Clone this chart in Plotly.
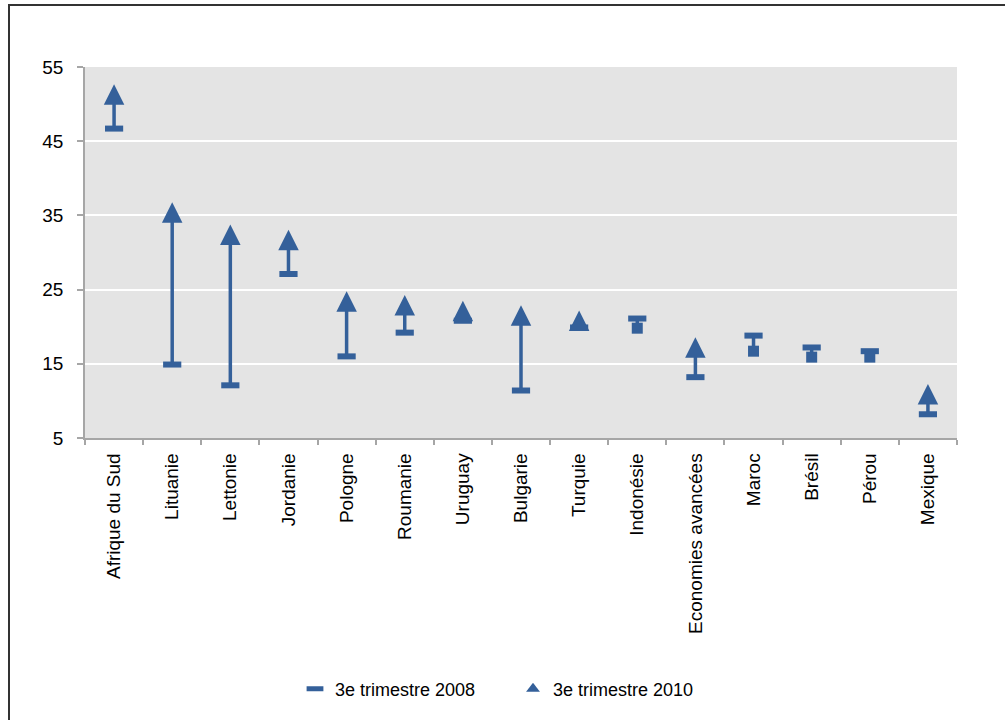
import plotly.graph_objects as go

# Taux de chômage des jeunes (%), 3e trimestre 2008 et 3e trimestre 2010
countries = ["Afrique du Sud", "Lituanie", "Lettonie", "Jordanie", "Pologne",
             "Roumanie", "Uruguay", "Bulgarie", "Turquie", "Indonésie",
             "Economies avancées", "Maroc", "Brésil", "Pérou", "Mexique"]
q3_2008 = [46.7, 14.9, 12.1, 27.1, 16.0, 19.2, 20.8, 11.4, 19.9, 21.1,
           13.2, 18.8, 17.2, 16.7, 8.2]
q3_2010 = [51.3, 35.4, 32.4, 31.7, 23.4, 22.9, 22.1, 21.5, 20.8, 19.8,
           17.2, 16.7, 15.9, 15.9, 10.9]
y_ticks = [5, 15, 25, 35, 45, 55]

BLUE = "#34609a"
AXIS_GREY = "#a6a6a6"
FONT = "Liberation Sans, Arial, sans-serif"

W, H = 1005, 720
M_L, M_R, M_T, M_B = 85, 48, 67, 282
plot_h = H - M_T - M_B
y_min, y_max = y_ticks[0], y_ticks[-1]
px_per_unit = plot_h / (y_max - y_min)

# arrow-up markers have their tip on the point; an overlaid axis shifted by
# half the marker height centres each triangle on its value
TRI_SIZE = 20.5
shift = (TRI_SIZE / 2) / px_per_unit

fig = go.Figure()

# vertical connectors 2008 -> 2010
seg_x, seg_y = [], []
for c, a, b in zip(countries, q3_2008, q3_2010):
    seg_x += [c, c, None]
    seg_y += [a, b, None]
fig.add_trace(go.Scatter(x=seg_x, y=seg_y, mode="lines",
                         line=dict(color=BLUE, width=3.5),
                         showlegend=False, hoverinfo="skip"))

# 2008 level (dash)
fig.add_trace(go.Scatter(x=countries, y=q3_2008, mode="markers",
                         marker=dict(symbol="line-ew", size=13,
                                     line=dict(color=BLUE, width=6)),
                         showlegend=False, name="3e trimestre 2008"))

# 2010 level: triangle when it rose, square when it fell
up_x = [c for c, a, b in zip(countries, q3_2008, q3_2010) if b >= a]
up_y = [b for a, b in zip(q3_2008, q3_2010) if b >= a]
dn_x = [c for c, a, b in zip(countries, q3_2008, q3_2010) if b < a]
dn_y = [b for a, b in zip(q3_2008, q3_2010) if b < a]

fig.add_trace(go.Scatter(x=up_x, y=up_y, mode="markers", yaxis="y2",
                         marker=dict(symbol="arrow-up", size=TRI_SIZE,
                                     color=BLUE, line=dict(width=0)),
                         showlegend=False, name="3e trimestre 2010"))
fig.add_trace(go.Scatter(x=dn_x, y=dn_y, mode="markers",
                         marker=dict(symbol="square", size=11,
                                     color=BLUE, line=dict(width=0)),
                         showlegend=False, name="3e trimestre 2010"))

# legend entries
fig.add_trace(go.Scatter(x=[None], y=[None], mode="markers",
                         name="3e trimestre 2008",
                         marker=dict(symbol="line-ew", size=12,
                                     line=dict(color=BLUE, width=5))))
fig.add_trace(go.Scatter(x=[None], y=[None], mode="markers",
                         name="3e trimestre 2010",
                         marker=dict(symbol="triangle-up", size=12,
                                     color=BLUE, line=dict(width=0))))

fig.update_layout(
    width=W, height=H,
    margin=dict(l=M_L, r=M_R, t=M_T, b=M_B),
    paper_bgcolor="white",
    plot_bgcolor="#e4e4e4",
    font=dict(family=FONT, size=18, color="black"),
    xaxis=dict(type="category", categoryorder="array", categoryarray=countries,
               range=[-0.5, len(countries) - 0.5],
               tickson="boundaries", ticks="outside", ticklen=5,
               tickcolor=AXIS_GREY, tickwidth=1.5,
               showline=True, linecolor=AXIS_GREY, linewidth=1.5,
               showgrid=False, tickangle=-90, ticklabelstandoff=6,
               tickfont=dict(size=19, color="black")),
    yaxis=dict(range=[y_min, y_max], tickvals=y_ticks,
               ticks="outside", ticklen=6, tickcolor=AXIS_GREY, tickwidth=1.5,
               showline=True, linecolor=AXIS_GREY, linewidth=1.5,
               showgrid=True, gridcolor="white", gridwidth=1.5,
               zeroline=False, ticklabelstandoff=10,
               tickfont=dict(size=19, color="black")),
    yaxis2=dict(overlaying="y", range=[y_min - shift, y_max - shift],
                visible=False, showgrid=False, zeroline=False),
    legend=dict(orientation="h", xref="container", yref="container",
                x=295 / W, xanchor="left", y=31 / H, yanchor="middle",
                entrywidth=173, entrywidthmode="pixels",
                font=dict(size=18, color="black"),
                bgcolor="rgba(0,0,0,0)"),
    shapes=[dict(type="rect", xref="paper", yref="paper",
                 x0=(9 - M_L) / (W - M_L - M_R),
                 x1=(W + 10 - M_L) / (W - M_L - M_R),
                 y0=(H - M_B - (H + 10)) / plot_h,
                 y1=(H - M_B - 5) / plot_h,
                 line=dict(color="#333333", width=2), layer="below")],
)

fig.write_html("out.html")
